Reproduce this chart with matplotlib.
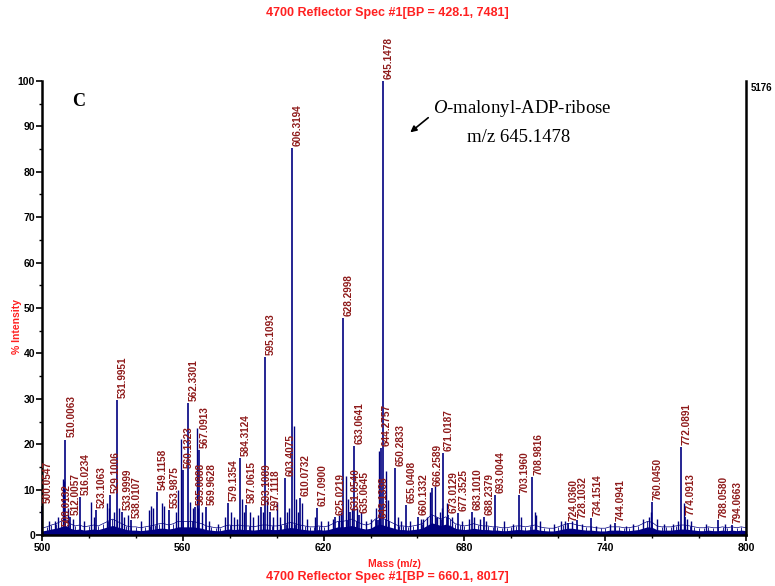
import numpy as np
import matplotlib
matplotlib.use("Agg")
import matplotlib.pyplot as plt
from matplotlib.ticker import FixedLocator, MultipleLocator

# === Data ===
# labelled peaks: m/z text and % intensity
peak_labels = [
    "500.0547", "508.0132", "510.0063", "512.0057", "516.0234", "523.1063",
    "529.1006", "531.9951", "533.9999", "538.0107", "549.1158", "553.9875",
    "560.1323", "562.3301", "565.0888", "567.0913", "569.9628", "579.1354",
    "584.3124", "587.0615", "593.1089", "595.1093", "597.1118", "603.4075",
    "606.3194", "610.0732", "617.0900", "625.0219", "628.2998", "631.0540",
    "633.0641", "635.0645", "643.1338", "644.2757", "645.1478", "650.2833",
    "655.0408", "660.1332", "666.2589", "671.0187", "673.0129", "677.3525",
    "683.1010", "688.2379", "693.0044", "703.1960", "708.9816", "724.0360",
    "728.1032", "734.1514", "744.0941", "760.0450", "772.0891", "774.0913",
    "788.0580", "794.0663",
]
peak_pct = [
    6.5, 1.5, 21.0, 4.0, 8.4, 5.5,
    8.8, 29.7, 5.1, 3.3, 9.5, 5.5,
    14.3, 29.0, 6.2, 18.7, 6.2, 7.0,
    17.0, 6.6, 6.2, 39.2, 5.1, 12.5,
    85.2, 8.1, 6.0, 4.0, 47.8, 5.1,
    19.5, 4.4, 3.3, 19.2, 100.0, 14.7,
    6.6, 4.0, 10.3, 18.0, 4.4, 4.8,
    5.1, 4.0, 8.8, 8.8, 12.8, 2.6,
    3.3, 3.7, 2.6, 7.3, 19.4, 4.0,
    3.3, 2.2,
]

# smaller unlabelled peaks
minor_mz = [
    503, 505.5, 507, 508.8, 509.5, 511, 513, 518, 520.7, 522, 527.5, 528.5,
    530.5, 533, 535, 536.5, 542, 545.5, 546.5, 547.5, 551, 552, 557, 558,
    559.1, 563, 564.2, 565.9, 566.5, 568, 571, 575, 578, 580.5, 582, 583,
    585.3, 586, 588.5, 590, 592, 594, 596, 598.5, 600.3, 601.5, 604.5, 605.3,
    607.4, 608.2, 609, 611, 613, 616.3, 619, 622, 624, 626.5, 627.2, 629.4,
    630.2, 632, 634.2, 636, 638, 640, 642.5, 643.6, 646.6, 647.4, 651.5, 653,
    657, 661.3, 662.5, 664, 665.3, 667.3, 668.5, 669.5, 670.5, 672.4, 674.5,
    679, 682, 684, 686.5, 689.3, 697, 700.5, 704, 710, 710.7, 712, 718, 721,
    723, 726, 730, 736, 742, 749, 752, 756, 758.5, 759.5, 762, 765, 769, 771,
    773.5, 774.7, 776.5, 783, 791, 799.8,
]
minor_pct = [
    3.0, 3.0, 4.0, 12.4, 12.0, 6.0, 3.5, 3.0, 7.3, 4.0, 7.0, 6.0,
    5.0, 6.0, 4.0, 4.5, 3.0, 5.5, 6.5, 6.0, 7.0, 6.5, 5.0, 10.0,
    21.1, 7.3, 6.0, 23.5, 6.0, 5.0, 3.0, 2.5, 4.0, 5.0, 4.0, 3.5,
    8.0, 5.0, 5.0, 4.0, 4.5, 5.0, 8.0, 4.0, 7.3, 4.0, 5.0, 6.0,
    24.0, 8.0, 5.0, 7.0, 3.5, 4.0, 3.0, 3.0, 3.5, 4.5, 5.0, 13.0,
    8.0, 6.0, 6.0, 5.0, 3.0, 3.5, 6.0, 18.5, 14.0, 7.7, 4.0, 3.0,
    3.0, 3.5, 3.5, 4.0, 9.5, 10.8, 4.0, 5.0, 6.0, 7.0, 4.0,
    3.0, 3.5, 4.0, 3.5, 3.0, 3.0, 2.5, 4.0, 5.0, 4.5, 3.0, 2.5, 3.0,
    3.0, 3.0, 2.5, 2.0, 2.5, 2.0, 2.5, 3.5, 4.0, 5.0, 3.5, 2.5, 2.5, 3.0,
    7.0, 3.5, 3.0, 2.5, 2.5, 3.3,
]

# baseline noise level every 2 m/z from 500 to 800
baseline_pct = [
    1.5, 1.8, 2.2, 2.5, 3.0, 3.5, 2.5, 2.0, 2.2, 1.8, 2.0, 2.2, 2.0, 2.5, 3.0, 3.5,
    3.0, 2.5, 2.0, 1.8, 1.8, 1.6, 1.8, 2.0, 2.2, 2.5, 2.5, 2.2, 2.5, 3.0, 3.0, 3.0,
    3.0, 2.8, 2.5, 2.0, 1.8, 1.6, 1.6, 2.0, 2.2, 2.0, 2.2, 2.0, 2.0, 1.8, 2.0, 2.2,
    2.2, 2.0, 2.0, 2.2, 2.5, 2.8, 2.5, 2.2, 2.0, 1.8, 1.8, 2.0, 1.8, 2.0, 2.5, 3.0,
    3.0, 3.2, 3.5, 3.0, 2.5, 2.2, 2.5, 3.5, 4.0, 3.5, 3.0, 2.5, 2.0, 2.0, 1.8, 2.0,
    2.2, 2.5, 3.5, 4.5, 4.0, 3.5, 4.0, 3.5, 2.5, 2.2, 2.0, 2.2, 2.5, 2.2, 2.0, 2.0,
    1.8, 1.8, 1.6, 1.6, 1.8, 2.0, 2.0, 1.8, 2.0, 2.2, 1.8, 1.6, 1.5, 1.5, 1.8, 2.2,
    2.5, 2.5, 2.2, 2.0, 1.8, 1.8, 1.6, 1.5, 1.5, 1.8, 1.8, 1.8, 1.6, 1.6, 1.8, 2.0,
    2.5, 3.0, 2.8, 2.0, 1.8, 1.8, 1.8, 2.0, 2.2, 2.2, 2.0, 1.8, 1.6, 1.6, 1.8, 1.6,
    1.6, 1.8, 1.6, 1.8, 1.6, 1.8, 1.6,
]

peak_mz = [float(s) for s in peak_labels]
baseline_mz = np.linspace(500, 800, len(baseline_pct))

navy = "#000080"
label_red = "#8e1a1a"
head_red = "#ff2020"

plt.rcParams['font.family'] = ['Liberation Sans', 'DejaVu Sans']
plt.rcParams['mathtext.fontset'] = 'custom'
plt.rcParams['mathtext.it'] = 'Liberation Serif:italic'
plt.rcParams['mathtext.rm'] = 'Liberation Serif'

fig = plt.figure(figsize=(7.75, 5.86), dpi=100)
ax = fig.add_axes([0.0542, 0.087, 0.9084, 0.7748])

# === Spectrum ===
ax.fill_between(baseline_mz, 0, np.array(baseline_pct) * 0.6, color=navy, lw=0)
ax.plot(baseline_mz, baseline_pct, color=navy, lw=0.5)
ax.vlines(baseline_mz, 0, baseline_pct, color=navy, lw=0.6)
ax.vlines(minor_mz, 0, minor_pct, color=navy, lw=1.0)
ax.vlines(peak_mz, 0, peak_pct, color=navy, lw=1.2, clip_on=False)

for mz, pct, txt in zip(peak_mz, peak_pct, peak_labels):
    ax.text(mz + 0.3, pct + 0.5, txt, rotation=90, ha='left', va='bottom',
            color=label_red, fontsize=7.2, fontweight='bold')

# === Axes ===
ax.set_xlim(500, 800)
ax.set_ylim(0, 100)
ax.xaxis.set_major_locator(FixedLocator(np.arange(500, 801, 60)))
ax.xaxis.set_minor_locator(FixedLocator(np.arange(500, 801, 20)))
ax.yaxis.set_major_locator(MultipleLocator(10))
ax.yaxis.set_minor_locator(MultipleLocator(5))
ax.spines['top'].set_visible(False)
for side in ['left', 'right', 'bottom']:
    ax.spines[side].set_linewidth(1.8)
ax.tick_params(axis='both', which='major', length=4, width=1.2, labelsize=7.5)
ax.tick_params(axis='both', which='minor', length=2, width=1.0)
ax.tick_params(axis='y', pad=1)
ax.tick_params(axis='x', pad=2)
for lab in ax.get_xticklabels() + ax.get_yticklabels():
    lab.set_fontweight('bold')

ax.set_xlabel("Mass (m/z)", color=head_red, fontsize=7.5, fontweight='bold', labelpad=4)
ax.set_ylabel("% Intensity", color=head_red, fontsize=7.5, fontweight='bold')
ax.yaxis.set_label_coords(-0.028, 0.46)

ax.text(1.006, 0.985, "5176", transform=ax.transAxes, ha='left', va='center',
        fontsize=7, fontweight='bold')

fig.text(0.5, 0.978, "4700 Reflector Spec #1[BP = 428.1, 7481]", ha='center', va='center',
         color=head_red, fontsize=9, fontweight='bold')
fig.text(0.5, 0.015, "4700 Reflector Spec #1[BP = 660.1, 8017]", ha='center', va='center',
         color=head_red, fontsize=9, fontweight='bold')

# === Annotations ===
ax.text(513, 94.5, "C", fontsize=13, fontweight='bold', family='Liberation Serif')
ax.text(666.5, 94, r"$\mathit{O}$-malonyl-ADP-ribose", fontsize=13.5,
        family='Liberation Serif', ha='left', va='center')
ax.text(703.0, 87.5, "m/z 645.1478", fontsize=13.5, family='Liberation Serif',
        ha='center', va='center')
ax.annotate("", xy=(656, 88.3), xytext=(665.5, 92.3),
            arrowprops=dict(arrowstyle='-|>', color='black', lw=1.2, mutation_scale=9))

plt.savefig("out.png", dpi=100)
